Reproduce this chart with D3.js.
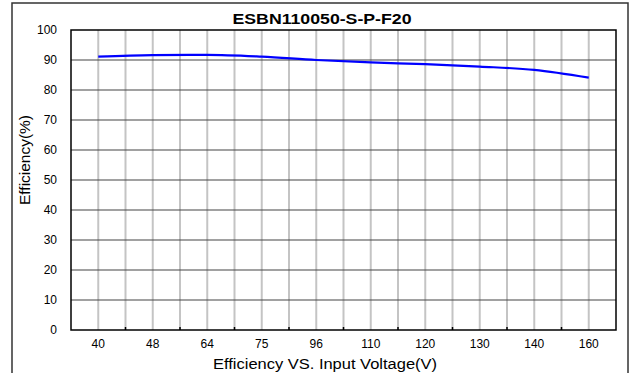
<!DOCTYPE html>
<html>
<head>
<meta charset="utf-8">
<script src="https://cdn.jsdelivr.net/npm/d3@7"></script>
<style>
  body { margin: 0; background: #fff; }
  text { font-family: "Liberation Sans", Arial, sans-serif; }
</style>
</head>
<body>
<div id="graph"></div>
<script>
var voltages = ['40', '48', '64', '75', '96', '110', '120', '130', '140', '160'];
var efficiency = [91.1, 91.6, 91.7, 91.1, 90.0, 89.2, 88.6, 87.8, 86.7, 84.1];
var yTicks = [0, 10, 20, 30, 40, 50, 60, 70, 80, 90, 100];
var title = 'ESBN110050-S-P-F20';

var w = 633, h = 373;
var plot = {left: 71, right: 616, top: 30, bottom: 330};

var svg = d3.select('#graph').append('svg')
  .attr('width', w)
  .attr('height', h);

// outer frame
svg.append('rect')
  .attr('x', 12).attr('y', 3)
  .attr('width', 616).attr('height', 380)
  .attr('fill', 'none')
  .attr('stroke', '#333')
  .attr('stroke-width', 1.5);

var x = d3.scaleBand()
  .domain(voltages)
  .range([plot.left, plot.right]);

var y = d3.scaleLinear()
  .domain([0, 100])
  .range([plot.bottom, plot.top]);

var half = x.bandwidth() / 2;

// vertical grid (centres and band edges)
var vlines = [];
voltages.forEach(function(v, i) {
  vlines.push(x(v) + half);
  if (i > 0) vlines.push(x(v));
});
svg.append('g').selectAll('line')
  .data(vlines)
  .enter().append('line')
  .attr('x1', function(d) { return d; })
  .attr('x2', function(d) { return d; })
  .attr('y1', plot.top)
  .attr('y2', plot.bottom)
  .attr('stroke', '#c4c4c4')
  .attr('stroke-width', 2);

// horizontal grid
svg.append('g').selectAll('line')
  .data(yTicks.slice(1, -1))
  .enter().append('line')
  .attr('x1', plot.left)
  .attr('x2', plot.right)
  .attr('y1', function(d) { return y(d); })
  .attr('y2', function(d) { return y(d); })
  .attr('stroke', '#444')
  .attr('stroke-width', 1.2);

// small ticks on x axis at band edges
svg.append('g').selectAll('line')
  .data(voltages.slice(1))
  .enter().append('line')
  .attr('x1', function(d) { return x(d); })
  .attr('x2', function(d) { return x(d); })
  .attr('y1', plot.bottom)
  .attr('y2', plot.bottom - 3)
  .attr('stroke', '#000')
  .attr('stroke-width', 1.5);

// plot border
svg.append('rect')
  .attr('x', plot.left).attr('y', plot.top)
  .attr('width', plot.right - plot.left)
  .attr('height', plot.bottom - plot.top)
  .attr('fill', 'none')
  .attr('stroke', '#000')
  .attr('stroke-width', 1.5);

// y tick labels
svg.append('g').selectAll('text')
  .data(yTicks)
  .enter().append('text')
  .attr('x', 57)
  .attr('y', function(d) { return y(d); })
  .attr('dy', '0.35em')
  .attr('text-anchor', 'end')
  .attr('font-size', 12)
  .text(function(d) { return d; });

// x tick labels
svg.append('g').selectAll('text')
  .data(voltages)
  .enter().append('text')
  .attr('x', function(d) { return x(d) + half; })
  .attr('y', 348)
  .attr('text-anchor', 'middle')
  .attr('font-size', 12)
  .text(function(d) { return d; });

var line = d3.line()
  .x(function(d, i) { return x(voltages[i]) + half; })
  .y(function(d) { return y(d); })
  .curve(d3.curveMonotoneX);

svg.append('path')
  .datum(efficiency)
  .attr('fill', 'none')
  .attr('stroke', '#0000ff')
  .attr('stroke-width', 2.2)
  .attr('d', line);

svg.append('text')
  .attr('x', 322)
  .attr('y', 24)
  .attr('text-anchor', 'middle')
  .attr('font-size', 14)
  .attr('font-weight', 'bold')
  .attr('textLength', 179)
  .attr('lengthAdjust', 'spacingAndGlyphs')
  .text(title);

svg.append('text')
  .attr('x', 325)
  .attr('y', 369)
  .attr('text-anchor', 'middle')
  .attr('font-size', 14)
  .attr('textLength', 224)
  .attr('lengthAdjust', 'spacingAndGlyphs')
  .text('Efficiency VS. Input Voltage(V)');

svg.append('text')
  .attr('transform', 'translate(30,160) rotate(-90)')
  .attr('text-anchor', 'middle')
  .attr('font-size', 14)
  .attr('textLength', 90)
  .attr('lengthAdjust', 'spacingAndGlyphs')
  .text('Efficiency(%)');
</script>
</body>
</html>
